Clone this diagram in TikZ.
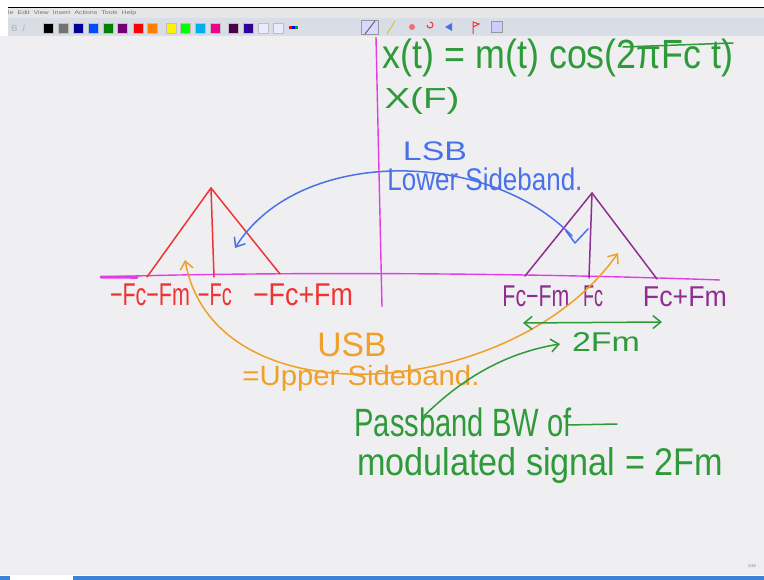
\documentclass[tikz,border=0pt]{standalone}
\usepackage{fontspec}
\setmainfont{Liberation Sans}
\usepackage{graphicx}
\usetikzlibrary{arrows.meta}
\definecolor{pgreen}{HTML}{2E9A3A}
\definecolor{pblue}{HTML}{4A72E8}
\definecolor{pred}{HTML}{EE3333}
\definecolor{ppurple}{HTML}{8E2E90}
\definecolor{pmag}{HTML}{E23CE6}
\definecolor{porange}{HTML}{F0A028}
\definecolor{board}{HTML}{EFEFF1}
\definecolor{menubar}{HTML}{E6E6E8}
\definecolor{toolbar}{HTML}{D9DDE5}
\definecolor{taskblue}{HTML}{3C82D8}
\newcommand{\hw}[3]{\resizebox*{#1pt}{#2pt}{#3}}
\begin{document}
\begin{tikzpicture}[x=1pt,y=-1pt,
  lbl/.style={inner sep=0pt,anchor=center},
  pen/.style={line width=1.5pt,line cap=round,line join=round},
  barb/.style={-{Straight Barb[length=8pt,width=13pt]}},
  dbarb/.style={{Straight Barb[length=8pt,width=13pt]}-{Straight Barb[length=8pt,width=13pt]}},
  swatch/.style={minimum width=10pt,minimum height=10pt,inner sep=0pt,draw=black!25,line width=0.3pt},
  chrome/.style={inner sep=0pt,anchor=west,text=black!55,font=\fontsize{5}{6}\selectfont}]
\useasboundingbox (0,0) rectangle (764,580);
% window chrome
\fill[white] (0,0) rectangle (764,580);
\fill[board] (0,36) rectangle (764,575);
\fill[menubar] (8,8) rectangle (764,18);
\fill[toolbar] (8,18) rectangle (764,36);
\draw[black,line width=1.2pt] (8,7.5) -- (764,7.5);
\node[chrome] (menu) at (8,13) {\hw{128}{5}{le\ \ Edit\ \ View\ \ Insert\ \ Actions\ \ Tools\ \ Help}};
\node[chrome,text=black!25] (bicon) at (11,28) {\fontsize{9}{9}\selectfont\bfseries B\ \ /};
\foreach \xx/\cc [count=\i] in {48/black,63/black!55,78/blue!60!black,93/blue!70!cyan,108/green!50!black,122/violet!90!black,138/red,152/orange,171/yellow,185/green,200/cyan,215/magenta,233/violet!60!black,248/blue!50!violet!80!black,263/white!92!blue,278/white!92!blue}
  \node[swatch,fill=\cc] (sw\i) at (\xx,28) {};
\node[inner sep=0pt] (pal) at (293,28) {\color{red}\rule{3pt}{3pt}\color{blue}\rule{3pt}{3pt}\color{green!60!black}\rule{3pt}{3pt}};
\node[draw=black!40,fill=white!85!blue,minimum width=17pt,minimum height=14pt,inner sep=0pt] (penbox) at (370,27) {};
\draw[black!60,line width=1pt] (365,34) -- (375,21);
\draw[yellow!80!black,line width=1pt] (387,34) -- (395,21);
\fill[pred!70] (412,27) circle (3pt);
\draw[pred,line width=1pt] (430,22) arc (90:-180:3pt);
\fill[pblue] (445,27) -- (452,23) -- (452,31) -- cycle;
\draw[pred,line width=1pt] (473,34) -- (473,22) -- (479,24) -- (473,27);
\node[draw=black!40,fill=white!80!blue,minimum width=11pt,minimum height=11pt,inner sep=0pt] (lastic) at (497,27) {};
\fill[taskblue] (73,575.5) rectangle (764,580);
\fill[taskblue] (0,575.5) rectangle (10,580);
\node[inner sep=0pt,text=black!50,font=\fontsize{4}{5}\selectfont] (page) at (752,566) {2/48};
% axes
\draw[pmag,line width=1.4pt] (376,37) -- (382,307);
\draw[pmag,line width=1.4pt] (100,277) .. controls (250,272) and (500,272) .. (720,280);
\draw[pmag,line width=3pt,line cap=round] (101,277) -- (137,277.3);
% equation
\node[lbl,text=pgreen] (eq) at (558,58) {\hw{350}{38}{x(t) = m(t) cos(2πFc t)}};
\coordinate (eqA) at (623,47); \coordinate (eqB) at (733,43);
\draw[pen,pgreen] (eqA) -- (eqB);
\node[lbl,text=pgreen] (XF) at (422,101) {\hw{75}{27}{X(F)}};
% LSB
\node[lbl,text=pblue] (lsb) at (435,151.5) {\hw{64}{19}{LSB}};
\node[lbl,text=pblue] (lsbtxt) at (485,179.5) {\hw{195}{23}{Lower Sideband.}};
% red triangle
\coordinate (rA) at (211,188); \coordinate (rL) at (147,277);
\coordinate (rR) at (280,274); \coordinate (rB) at (214,277);
\draw[pen,pred] (rL) -- (rA) -- (rR);
\draw[pen,pred] (rA) -- (rB);
% purple triangle
\coordinate (pA) at (592,193); \coordinate (pL) at (525,276);
\coordinate (pR) at (657,279); \coordinate (pB) at (589,278);
\draw[pen,ppurple] (pL) -- (pA) -- (pR);
\draw[pen,ppurple] (pA) -- (pB);
% red labels
\node[lbl,text=pred] (l1) at (150,295) {\hw{80}{22}{−Fc−Fm}};
\node[lbl,text=pred] (l2) at (215,295) {\hw{34}{22}{−Fc}};
\node[lbl,text=pred] (l3) at (303,295) {\hw{100}{22}{−Fc+Fm}};
% purple labels
\node[lbl,text=ppurple] (l4) at (536,296) {\hw{67}{21}{Fc−Fm}};
\node[lbl,text=ppurple] (l5) at (593,296) {\hw{20}{21}{Fc}};
\node[lbl,text=ppurple] (l6) at (685,297) {\hw{84}{20}{Fc+Fm}};
% LSB arc
\coordinate (lsbS) at (572,236); \coordinate (lsbT) at (235,248);
\draw[pen,pblue,barb] (lsbS) .. controls (490,150) and (300,145) .. (lsbT);
\coordinate (hk1) at (566,231); \coordinate (hk2) at (575,243); \coordinate (hk3) at (588,229);
\draw[pen,pblue] (hk1) -- (hk2) -- (hk3);
% USB arc
\coordinate (usbL) at (185,260); \coordinate (usbR) at (618,253);
\draw[pen,porange,dbarb] (usbL) .. controls (215,425) and (515,400) .. (usbR);
\node[lbl,text=porange] (usb) at (352,345) {\hw{69}{24}{USB}};
\node[lbl,text=porange] (usbtxt) at (361,378.5) {\hw{237}{26}{=Upper Sideband.}};
% 2Fm
\coordinate (bwL) at (523,323); \coordinate (bwR) at (662,322);
\draw[pen,pgreen,dbarb] (bwL) -- (bwR);
\node[lbl,text=pgreen] (twofm) at (606,342) {\hw{68}{19}{2Fm}};
\coordinate (ptS) at (423,417); \coordinate (ptT) at (560,344);
\draw[pen,pgreen,barb] (ptS) .. controls (465,375) and (510,352) .. (ptT);
% passband text
\node[lbl,text=pgreen] (pb1) at (463,422) {\hw{217}{29}{Passband BW of}};
\coordinate (ofA) at (568,425); \coordinate (ofB) at (617,424);
\draw[pen,pgreen] (ofA) -- (ofB);
\node[lbl,text=pgreen] (pb2) at (540,466) {\hw{366}{36}{modulated signal = 2Fm}};
\end{tikzpicture}
\end{document}
